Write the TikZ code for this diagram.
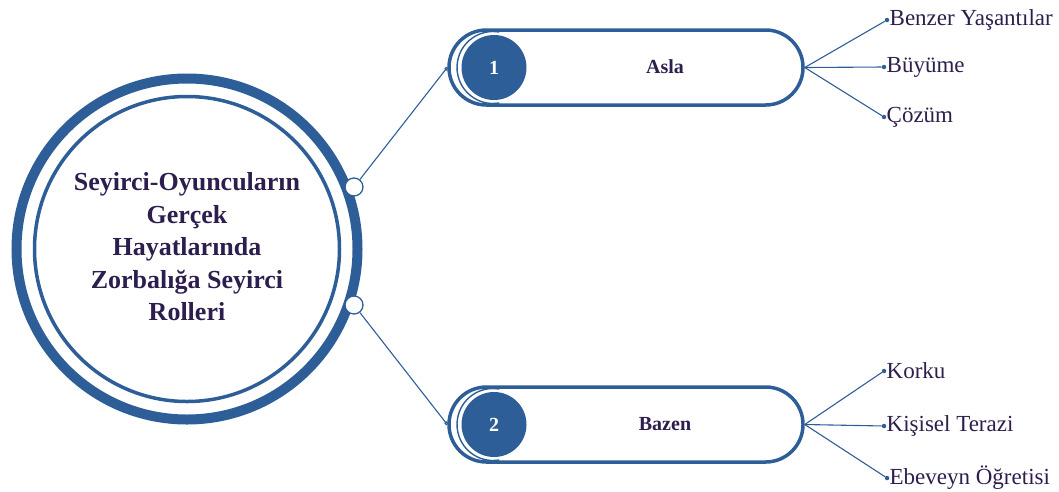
\documentclass[tikz,border=0pt]{standalone}
\usepackage{fontspec}
\setmainfont{Liberation Serif}
\usetikzlibrary{arrows.meta}
\definecolor{mblue}{HTML}{2E5E98}
\definecolor{mtext}{HTML}{2D1E4E}
\tikzset{
  ring/.style={circle, draw=mblue, inner sep=0pt},
  joint/.style={circle, draw=mblue, fill=white, line width=1.3pt, minimum size=18pt, inner sep=0pt},
  pill/.style={draw=mblue, line width=3.5pt, rounded corners=37.4pt, minimum width=354pt, minimum height=75pt, inner sep=0pt},
  numc/.style={circle, fill=mblue, minimum size=65pt, inner sep=0pt, text=white, font=\bfseries\fontsize{20}{20}\selectfont},
  ptitle/.style={text=mtext, font=\bfseries\fontsize{20}{20}\selectfont},
  conn/.style={draw=mblue, line width=1.1pt},
  bul/.style={circle, fill=mblue, minimum size=4.5pt, inner sep=0pt},
  lab/.style={text=mtext, anchor=west, inner sep=0pt, font=\fontsize{23}{23}\selectfont},
}
\begin{document}
\begin{tikzpicture}[x=1pt,y=-1pt]
\useasboundingbox (0,0) rectangle (1059,491);
% main circle
\node[ring, line width=10pt, minimum size=341pt] (outer) at (187,249) {};
\node[ring, line width=3.5pt, minimum size=305pt] (inner) at (187,249) {};
\node[text=mtext, align=center, font=\bfseries\fontsize{26}{32.5}\selectfont] (title) at (187,247)
  {Seyirci-Oyuncuların\\Gerçek\\Hayatlarında\\Zorbalığa Seyirci\\Rolleri};
% pills
\node[pill] (p1) at (626,67.5) {};
\node[pill] (p2) at (626,424.5) {};
\draw[mblue, line width=1.4pt] (493,67.5) ++(80:36pt) arc[start angle=80, end angle=280, radius=36pt];
\draw[mblue, line width=1.4pt] (493,424.5) ++(80:36pt) arc[start angle=80, end angle=280, radius=36pt];
\node[numc] (n1) at (494,67.5) {1};
\node[numc] (n2) at (494,424.5) {2};
\node[ptitle] (a1) at (665,67) {Asla};
\node[ptitle] (a2) at (665,424) {Bazen};
% joints and connectors
\node[joint] (ja) at (354,187) {};
\node[joint] (jb) at (354,305) {};
\draw[conn, -{Square[open,length=3pt,width=3pt]}] (ja) -- (p1.west);
\draw[conn, -{Square[open,length=3pt,width=3pt]}] (jb) -- (p2.west);
% right fans
\node[bul] (b11) at (887,20) {};
\node[bul] (b12) at (884,67) {};
\node[bul] (b13) at (884,117) {};
\node[bul] (b21) at (884,371) {};
\node[bul] (b22) at (884,426) {};
\node[bul] (b23) at (887,478) {};
\draw[conn] (p1.east) -- (b11);
\draw[conn] (p1.east) -- (b12);
\draw[conn] (p1.east) -- (b13);
\draw[conn] (p2.east) -- (b21);
\draw[conn] (p2.east) -- (b22);
\draw[conn] (p2.east) -- (b23);
\node[lab] (t11) at (b11.east) {Benzer Yaşantılar};
\node[lab] (t12) at (b12.east) {Büyüme};
\node[lab] (t13) at (b13.east) {Çözüm};
\node[lab] (t21) at (b21.east) {Korku};
\node[lab] (t22) at (b22.east) {Kişisel Terazi};
\node[lab] (t23) at (b23.east) {Ebeveyn Öğretisi};
\end{tikzpicture}
\end{document}
